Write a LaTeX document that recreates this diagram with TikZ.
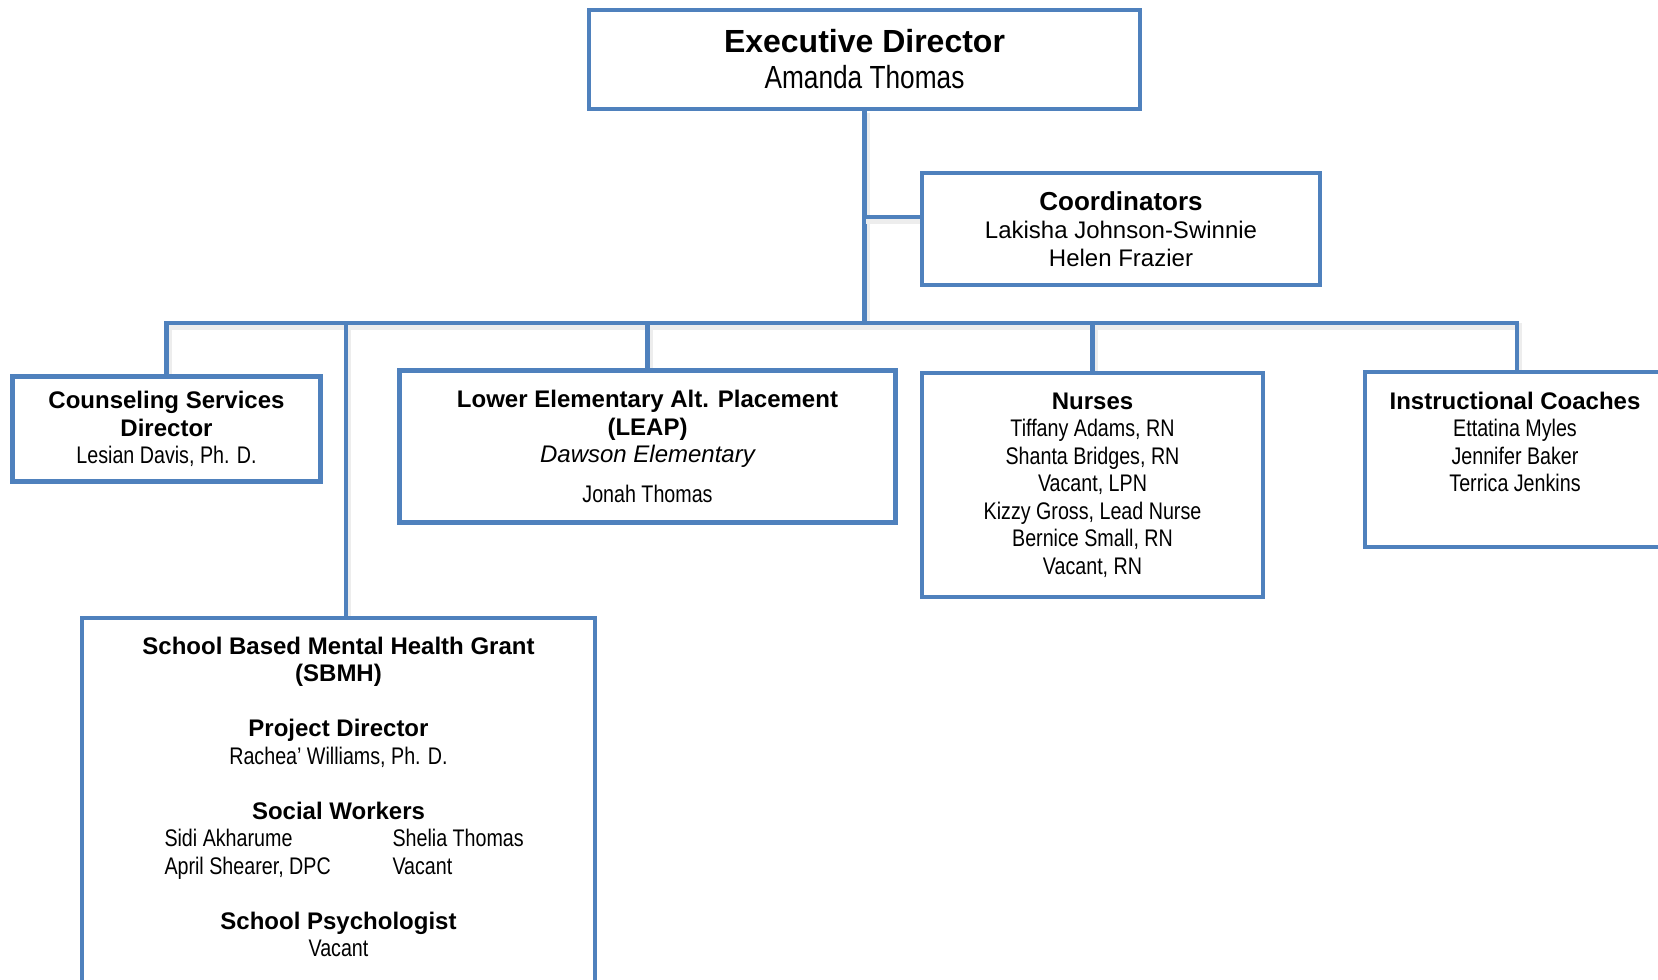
\documentclass[tikz,border=0pt]{standalone}
\usepackage{fontspec}
\setmainfont{Liberation Sans}
\newfontfamily\namefont[FakeStretch=0.82]{Liberation Sans}
\usetikzlibrary{calc,backgrounds}
\definecolor{orgblue}{HTML}{4F81BD}

\tikzset{
    orgbox/.style={draw=orgblue, line width=2.25pt, fill=white, outer sep=0pt, inner sep=0pt, align=center,
        font=\fontsize{12}{13.75}\selectfont},
    link/.style={draw=orgblue, line width=2.25pt,
        preaction={draw=black!7, line width=3.5pt, transform canvas={shift={(0.8pt,-1.8pt)}}}},
    orgtext/.style={align=center, inner sep=0pt, anchor=north, font=\fontsize{12}{13.75}\selectfont}
}

\begin{document}
\begin{tikzpicture}[x=0.5pt, y=-0.5pt]
    \useasboundingbox (0, 0) rectangle (1658, 979);

    \node[orgbox, minimum width=275.5pt, minimum height=49.5pt, font=\fontsize{16}{18}\selectfont] (exec) at (864.5, 59.5)
        {{\bfseries Executive Director}\\{\namefont Amanda Thomas}};

    \node[orgbox, minimum width=199pt, minimum height=56pt, font=\fontsize{12}{14}\selectfont] (coord) at (1121, 229)
        {{\fontsize{13}{14}\selectfont\bfseries Coordinators}\\Lakisha Johnson-Swinnie\\Helen Frazier};

    \node[orgbox, minimum width=154pt, minimum height=52.5pt] (couns) at (166.5, 429)
        {{\bfseries Counseling Services}\\{\bfseries Director}\\{\namefont Lesian Davis, Ph. D.}};

    \node[orgbox, minimum width=248pt, minimum height=76pt] (leap) at (647.5, 446.5)
        {{\bfseries Lower Elementary Alt. Placement}\\{\bfseries (LEAP)}\\{\itshape Dawson Elementary}\\[6.25pt]{\namefont Jonah Thomas}};

    \node[orgbox, minimum width=170.5pt, minimum height=112pt] (nurses) at (1092.5, 485)
        {{\bfseries Nurses}\\{\namefont Tiffany Adams, RN}\\{\namefont Shanta Bridges, RN}\\{\namefont Vacant, LPN}\\
         {\namefont Kizzy Gross, Lead Nurse}\\{\namefont Bernice Small, RN}\\{\namefont Vacant, RN}};

    \node[orgbox, minimum width=152pt, minimum height=87.5pt] (instr) at (1517, 459.5) {};
    \node[orgtext] (instrtext) at ([xshift=-1pt, yshift=-9.7pt]instr.north)
        {{\bfseries Instructional Coaches}\\{\namefont Ettatina Myles}\\{\namefont Jennifer Baker}\\{\namefont Terrica Jenkins}};

    \node[orgbox, minimum width=256.5pt, minimum height=191pt] (sbmh) at (338.5, 809) {};
    \node[orgtext] (sbmhtext) at ([yshift=-9.2pt]sbmh.north)
        {{\bfseries School Based Mental Health Grant}\\{\bfseries (SBMH)}\\[13.75pt]
         {\bfseries Project Director}\\{\namefont Rachea’ Williams, Ph. D.}\\[13.75pt]
         {\bfseries Social Workers}\\
         {\namefont\makebox[114pt][l]{Sidi Akharume}\makebox[60pt][l]{Shelia Thomas}}\\
         {\namefont\makebox[114pt][l]{April Shearer, DPC}\makebox[60pt][l]{Vacant}}\\[13.75pt]
         {\bfseries School Psychologist}\\{\namefont Vacant}};

    % connectors, behind the boxes
    \begin{scope}[on background layer]
    \coordinate (bus) at (exec.south |- 0, 323);
    \coordinate (cbranch) at (exec.south |- 0, 217);
    \draw[link] (exec.south) -- (bus);
    \draw[link] (cbranch) -- (cbranch -| coord.west);
    \draw[link] (couns.north) |- (bus) -| (instr.north);
    \foreach \n in {leap, nurses} {
        \draw[link] (\n.north) -- (\n.north |- bus);
    }
    \draw[link] ([xshift=3.75pt]sbmh.north) -- ([xshift=3.75pt]sbmh.north |- bus);
    \end{scope}

\end{tikzpicture}
\end{document}
